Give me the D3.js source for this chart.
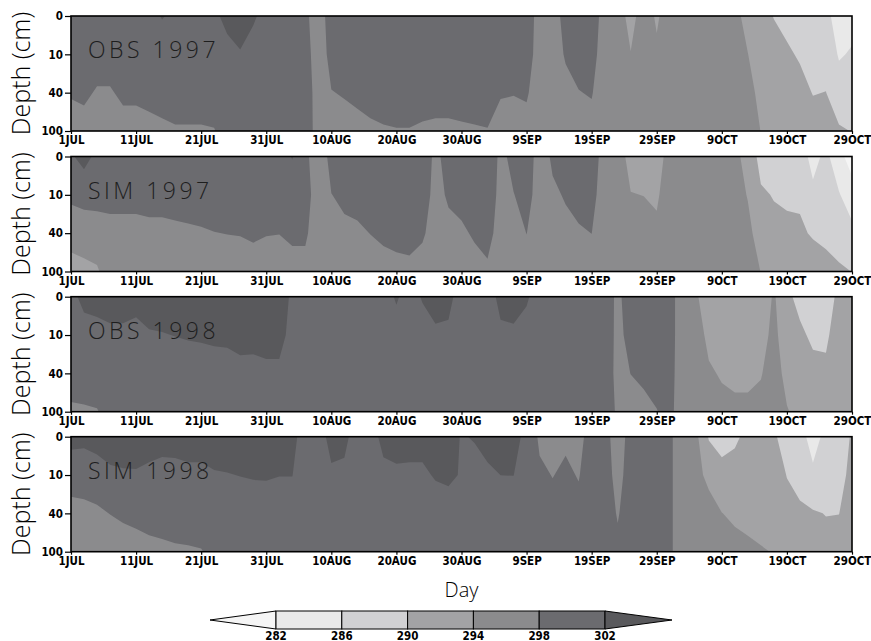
<!DOCTYPE html>
<html lang="en">
<head>
<meta charset="UTF-8">
<title>Soil temperature</title>
<script src="https://cdn.jsdelivr.net/npm/d3@7"></script>
<style>
  body { margin: 0; background: #fff; }
  .tick text { font-family: "DejaVu Sans Condensed", "DejaVu Sans", sans-serif; font-weight: bold; font-size: 11.5px; fill: #000; }
  .tick line { stroke: #000; stroke-width: 1.2; }
  .thin { font-family: "Open Sans", "Inter", "Liberation Sans", sans-serif; font-weight: 300; }
</style>
</head>
<body>
<svg id="chart" width="871" height="641"></svg>
<script>
// contour levels (K) and shades, lowest band first
const levels = [282, 286, 290, 294, 298, 302]
const shades = ['#f5f5f5', '#e9e9e9', '#d1d1d3', '#a3a3a5', '#8b8b8d', '#6b6b6f', '#59595c']

// soil levels (cm) and the day grid (every 2nd day from 1 JUL)
const depthLabels = ['0', '10', '40', '100']
const gridDays = d3.range(0, 121, 2)
const tickDays = [0, 10, 20, 30, 40, 50, 60, 70, 80, 90, 100, 110, 120]
const tickLabels = ['1JUL', '11JUL', '21JUL', '31JUL', '10AUG', '20AUG', '30AUG', '9SEP', '19SEP', '29SEP', '9OCT', '19OCT', '29OCT']

// OBS 1997, temperature at 0 / 10 / 40 / 100 cm
const obs97_0 = [300.6,300.8,300.2,300.2,300.8,300.8,301.0,302.2,301.3,301.4, 301.4,301.5,302.7,303.4,302.4,301.0,301.0,301.0,299.0,295.5, 300.3,300.6,300.9,301.2,301.4,301.5,301.5,301.3,301.2,301.2, 301.3,301.4,301.5,300.6,300.5,300.7,296.0,296.0,299.5,300.3, 300.6,296.0,295.5,292.9,295.5,293.6,295.5,295.5,295.5,295.5, 295.5,295.0,292.8,291.0,289.9,289.2,288.5,287.5,287.6,283.3,284.6]
const obs97_10 = [299.4,299.6,299.0,299.0,299.6,299.6,299.8,300.0,300.2,300.2, 300.2,300.3,301.2,301.8,300.8,300.5,300.5,300.5,299.5,296.0, 299.1,299.4,299.7,300.0,300.2,300.3,300.3,300.1,300.0,300.0, 300.1,300.2,300.3,299.4,299.3,299.5,296.5,296.5,298.3,299.1, 299.4,296.0,296.0,294.1,296.0,294.5,296.0,296.0,296.0,296.0, 296.0,295.5,294.05,292.0,291.1,290.4,289.7,288.7,288.8,285.6,286.4]
const obs97_40 = [298.2,298.4,297.8,297.8,298.4,298.4,298.6,298.8,299.0,299.0, 299.0,299.1,300.2,300.5,300.0,300.0,300.0,300.0,299.8,296.5, 297.9,298.2,298.5,298.8,299.0,299.1,299.1,298.9,298.8,298.8, 298.9,299.0,299.1,298.2,298.1,298.3,296.5,296.5,297.1,297.9, 298.2,296.0,296.5,295.3,296.5,295.6,296.5,296.5,296.5,296.5, 296.5,296.0,295.2,293.0,292.3,291.6,290.9,289.9,290.05,288.0,288.2]
const obs97_100 = [297.0,297.2,296.6,296.6,297.2,297.2,297.4,297.6,297.8,297.8, 297.8,297.9,299.0,299.5,299.5,299.5,299.5,299.5,300.0,296.5, 296.7,297.0,297.3,297.6,297.8,297.9,297.9,297.7,297.6,297.6, 297.7,297.8,297.9,297.0,296.9,297.1,296.5,296.5,295.9,296.7, 297.0,296.5,296.8,296.5,296.8,296.8,296.8,296.8,296.8,296.8, 296.8,296.5,296.4,293.9,293.5,292.8,292.1,291.1,291.2,290.4,289.9]

// SIM 1997
const sim97_0 = [301.5,303.4,301.0,299.8,299.8,299.8,299.9,299.9,300.0,300.1, 300.2,300.4,300.4,300.5,300.7,300.5,300.4,302.2,299.0,295.5, 299.2,299.8,300.0,300.4,300.8,301.0,301.1,300.7,297.0,299.6, 300.0,300.7,301.2,297.0,299.1,300.4,296.0,298.6,299.5,300.1, 300.4,296.0,295.5,292.9,292.8,292.3,295.5,295.5,295.5,295.5, 295.5,295.0,292.6,288.7,288.6,288.3,288.2,284.5,287.1,283.0,280.5]
const sim97_10 = [298.8,299.2,299.2,298.6,298.6,298.6,298.7,298.7,298.8,298.9, 299.0,299.2,299.2,299.3,299.5,299.3,299.2,299.6,299.6,296.0, 297.95,298.6,298.8,299.2,299.6,299.8,299.9,299.5,297.0,298.4, 298.8,299.5,300.0,297.0,297.9,299.2,296.5,297.4,298.3,298.9, 299.2,296.0,296.0,294.1,293.95,293.5,296.0,296.0,296.0,296.0, 296.0,295.5,293.8,290.5,289.8,289.5,289.4,287.0,288.3,286.3,283.5]
const sim97_40 = [295.6,296.1,296.4,297.4,297.4,297.4,297.5,297.5,297.6,297.7, 297.8,297.95,298.04,298.1,298.3,298.1,298.04,298.4,298.4,296.5, 296.8,297.4,297.6,298.04,298.4,298.6,298.7,298.3,297.0,297.2, 297.6,298.3,298.8,297.0,296.7,298.04,296.5,296.2,297.1,297.7, 298.02,296.0,296.5,295.3,295.2,294.7,296.5,296.5,296.5,296.5, 296.5,296.0,295.0,292.2,291.0,290.7,290.6,289.6,289.5,288.4,287.2]
const sim97_100 = [292.4,292.9,293.5,296.2,296.2,296.2,296.3,296.3,296.4,296.5, 296.6,296.8,296.8,296.9,297.1,296.9,296.8,297.2,297.2,296.5, 295.6,296.2,296.4,296.8,297.2,297.4,297.5,297.1,296.5,296.0, 296.4,297.1,297.6,297.0,295.5,296.8,296.5,295.0,295.9,296.5, 296.8,296.5,296.8,296.5,296.4,295.9,296.8,296.8,296.8,296.8, 296.8,296.5,296.2,293.9,292.2,291.9,291.8,292.1,290.7,290.5,289.95]

// OBS 1998
const obs98_0 = [301.3,302.7,302.9,302.9,302.9,302.7,303.1,303.2,303.3,303.4, 303.5,303.6,303.7,303.8,303.8,304.0,304.0,301.3,300.5,300.5, 300.5,300.5,300.5,300.5,300.5,302.4,300.5,302.3,303.2,302.9, 300.5,300.5,300.5,302.9,303.2,302.4,300.5,300.5,300.5,300.5, 300.5,300.5,297.0,300.4,300.9,301.5,299.5,295.8,294.5,292.0, 291.3,291.0,291.0,291.4,294.5,290.6,289.2,288.2,288.0,291.0,291.0]
const obs98_10 = [300.1,301.0,301.2,301.6,301.6,301.4,301.8,301.9,302.05,302.2, 302.3,302.5,302.6,302.9,302.8,303.0,303.0,301.0,300.3,300.3, 300.3,300.3,300.3,300.3,300.3,300.5,300.3,300.5,301.5,301.4, 300.3,300.3,300.3,301.4,301.5,300.8,300.3,300.3,300.3,300.3, 300.3,300.3,297.0,299.2,299.7,300.3,299.5,295.8,295.5,293.2, 292.5,292.2,292.2,292.6,295.0,291.8,290.5,289.5,289.4,291.8,291.8]
const obs98_40 = [298.9,299.3,299.5,300.3,300.3,300.1,300.5,300.6,300.8,300.8, 300.8,300.8,300.8,301.2,301.2,301.4,301.4,300.7,300.0,300.0, 300.0,300.0,300.0,300.0,300.0,300.0,300.0,300.0,300.2,300.2, 300.0,300.0,300.0,300.2,300.2,300.2,300.0,300.0,300.0,300.0, 300.0,300.0,297.0,298.04,298.5,299.1,299.3,295.8,296.0,294.4, 293.7,293.4,293.4,293.8,295.5,293.0,291.8,290.8,290.7,292.5,292.5]
const obs98_100 = [297.7,297.7,297.85,299.0,299.0,298.8,299.2,299.3,299.5,299.5, 299.5,299.5,299.5,299.8,299.8,300.0,300.0,300.3,299.8,299.8, 299.8,299.8,299.8,299.8,299.8,299.8,299.8,299.8,299.8,299.8, 299.8,299.8,299.8,299.8,299.8,299.8,299.8,299.8,299.8,299.8, 299.8,299.8,297.5,296.8,297.3,297.9,299.0,295.8,296.5,295.6, 294.9,294.6,294.6,295.0,296.0,294.2,293.1,292.1,292.0,293.3,293.3]

// SIM 1998
const sim98_0 = [303.1,302.9,303.4,304.2,304.3,304.1,303.4,303.0,303.0,303.2, 303.2,303.3,303.4,303.6,303.7,303.7,303.6,303.6,299.4,300.5, 303.1,302.8,300.5,300.8,302.8,303.2,303.0,303.0,303.7,303.9, 301.7,302.3,303.0,303.5,303.5,300.8,297.4,296.7,297.4,296.6, 300.0,300.0,295.3,300.0,300.0,300.0,298.6,296.0,295.0,289.7, 288.5,289.4,290.9,290.6,290.4,288.7,288.0,283.8,287.5,287.6,290.5]
const sim98_10 = [299.85,299.9,300.4,301.2,301.5,301.6,301.3,301.1,301.2,301.4, 301.4,301.8,301.9,302.06,302.2,302.25,302.06,302.06,300.2,300.3, 301.5,301.35,300.3,300.3,301.3,301.5,301.5,301.5,302.25,302.5, 301.8,300.5,301.5,302.01,302.03,300.5,298.6,297.9,298.6,297.8, 300.0,300.0,296.5,300.0,300.0,300.0,298.6,296.0,295.5,292.8, 291.3,291.4,292.1,291.8,291.6,289.9,289.2,287.05,288.7,288.8,291.0]
const sim98_40 = [296.6,296.9,297.3,298.1,298.7,299.0,299.2,299.2,299.4,299.5, 299.6,300.3,300.4,300.5,300.6,300.6,300.5,300.5,300.0,300.0, 300.5,300.5,300.0,300.0,300.5,300.5,300.5,300.5,300.6,300.8, 300.5,300.2,300.5,300.5,300.5,300.2,299.8,299.1,299.8,299.0, 300.0,300.0,297.7,300.0,300.0,300.0,298.6,296.0,296.0,295.9, 294.06,293.3,293.3,293.0,292.8,291.1,290.4,290.3,289.9,289.96,291.5]
const sim98_100 = [294.5,294.5,294.5,295.0,295.9,296.5,297.1,297.4,297.6,297.7, 297.85,298.8,298.9,299.0,299.1,299.1,299.0,299.0,299.5,299.5, 299.5,299.5,299.5,299.5,299.5,299.5,299.5,299.5,299.5,299.5, 299.5,299.5,299.5,299.5,299.5,299.5,301.0,300.3,301.0,300.2, 300.0,300.0,298.9,300.0,300.0,300.0,298.6,296.0,296.5,297.5, 296.9,295.3,294.5,294.2,293.9,292.3,291.6,293.6,291.1,291.2,292.0]

const panels = [
  {name: 'OBS 1997', rows: [obs97_0, obs97_10, obs97_40, obs97_100]},
  {name: 'SIM 1997', rows: [sim97_0, sim97_10, sim97_40, sim97_100]},
  {name: 'OBS 1998', rows: [obs98_0, obs98_10, obs98_40, obs98_100]},
  {name: 'SIM 1998', rows: [sim98_0, sim98_10, sim98_40, sim98_100]}
]

const svg = d3.select('#chart')
const panelH = 115
const panelTop = [16, 156.5, 296.7, 436.7]

const x = d3.scaleLinear().domain([0, 120]).range([71, 852])
const y = d3.scaleLinear().domain([0, depthLabels.length - 1]).range([0, panelH])

const nx = gridDays.length, ny = depthLabels.length
const step = gridDays[1] - gridDays[0]
// d3.contours puts sample i at i+0.5
const path = d3.geoPath(d3.geoTransform({
  point: function (gx, gy) {
    this.stream.point(x(gridDays[0] + (gx - 0.5) * step), y(gy - 0.5))
  }
}))

panels.forEach(function (p, k) {
  const g = svg.append('g').attr('transform', 'translate(0,' + panelTop[k] + ')')
  g.append('clipPath').attr('id', 'clip' + k).append('rect')
    .attr('x', x(0)).attr('y', 0).attr('width', x(120) - x(0)).attr('height', panelH)
  const field = g.append('g').attr('clip-path', 'url(#clip' + k + ')')
  field.append('rect').attr('x', x(0)).attr('y', 0)
    .attr('width', x(120) - x(0)).attr('height', panelH).attr('fill', shades[0])

  const values = [].concat(...p.rows)
  const bands = d3.contours().size([nx, ny]).thresholds(levels)(values)
  field.selectAll('path').data(bands).join('path')
    .attr('d', path)
    .attr('fill', (d, i) => shades[i + 1])

  g.append('text').attr('class', 'thin')
    .attr('x', 88).attr('y', 42)
    .attr('font-size', 23).attr('letter-spacing', 3.5).attr('fill', '#1e1e1e')
    .text(p.name)

  g.append('rect').attr('x', x(0)).attr('y', 0)
    .attr('width', x(120) - x(0)).attr('height', panelH)
    .attr('fill', 'none').attr('stroke', '#000').attr('stroke-width', 1.6)

  const ya = g.append('g').attr('transform', 'translate(' + x(0) + ',0)')
    .call(d3.axisLeft(y).tickValues(d3.range(ny)).tickFormat(i => depthLabels[i]).tickSize(6).tickPadding(2))
  ya.select('.domain').remove()

  const xa = g.append('g').attr('transform', 'translate(0,' + panelH + ')')
    .call(d3.axisBottom(x).tickValues(tickDays).tickFormat((d, i) => tickLabels[i]).tickSize(3).tickPadding(2))
  xa.select('.domain').remove()

  g.append('text').attr('class', 'thin')
    .attr('transform', 'translate(30,' + panelH / 2 + ') rotate(-90)')
    .attr('text-anchor', 'middle').attr('font-size', 25).attr('fill', '#000')
    .text('Depth (cm)')
})

svg.append('text').attr('class', 'thin')
  .attr('x', (x(0) + x(120)) / 2).attr('y', 597)
  .attr('text-anchor', 'middle').attr('font-size', 20).attr('fill', '#000')
  .text('Day')

// colour bar
const cbx = d3.scaleLinear().domain([levels[0], levels[levels.length - 1]]).range([276, 605])
const cbTop = 611, cbH = 18
const cb = svg.append('g').attr('stroke', '#000').attr('stroke-width', 1)
cb.append('path')
  .attr('d', 'M' + cbx(levels[0]) + ',' + cbTop + 'L210,' + (cbTop + cbH / 2) + 'L' + cbx(levels[0]) + ',' + (cbTop + cbH) + 'Z')
  .attr('fill', shades[0])
cb.selectAll('rect').data(levels.slice(0, -1)).join('rect')
  .attr('x', d => cbx(d)).attr('y', cbTop)
  .attr('width', (d, i) => cbx(levels[i + 1]) - cbx(d)).attr('height', cbH)
  .attr('fill', (d, i) => shades[i + 1])
cb.append('path')
  .attr('d', 'M' + cbx(levels[levels.length - 1]) + ',' + cbTop + 'L672,' + (cbTop + cbH / 2) + 'L' + cbx(levels[levels.length - 1]) + ',' + (cbTop + cbH) + 'Z')
  .attr('fill', shades[shades.length - 1])
svg.selectAll('.cblab').data(levels).join('text').attr('class', 'cblab')
  .attr('x', d => cbx(d)).attr('y', 639.5)
  .attr('text-anchor', 'middle')
  .attr('font-family', '"DejaVu Sans Condensed", "DejaVu Sans", sans-serif').attr('font-weight', 'bold').attr('font-size', 11.5)
  .text(d => d)
</script>
</body>
</html>
